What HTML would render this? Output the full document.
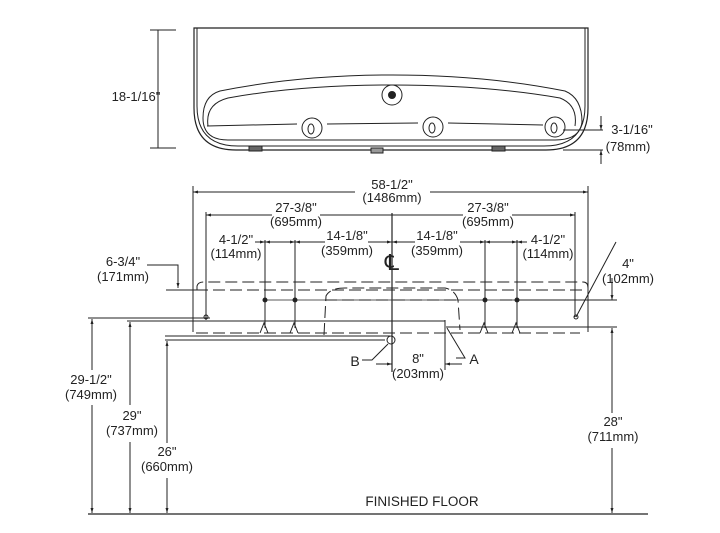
<!DOCTYPE html>
<html><head><meta charset="utf-8"><style>
html,body{margin:0;padding:0;background:#fff}
svg{display:block}
text{font-family:"Liberation Sans",Arial,sans-serif;font-size:13px;fill:#222;text-anchor:middle}
</style></head><body>
<svg width="720" height="533" viewBox="0 0 720 533" xmlns="http://www.w3.org/2000/svg">
<defs>
<marker id="a" viewBox="0 0 10 10" refX="10" refY="5" markerWidth="5" markerHeight="5" orient="auto-start-reverse"><path d="M0,2 L10,5 L0,8z" fill="#222"/></marker>
</defs>
<g stroke="#222" fill="none" stroke-width="1">
<!-- top view -->
<path d="M194,28 V108 Q194,150 236,150 H546 Q588,150 588,108 V28 Z" stroke-width="1.2"/>
<path d="M197,28 V106 Q197,146 238,146 H544 Q585,146 585,106 V28"/>
<path d="M220,91 Q300,75 392,75 Q485,75 565,91 Q582,98 582,122 Q580,140 555,140 H228 Q203,140 203,118 Q203,96 220,91 Z"/>
<path d="M208,126 Q205,104 228,98 Q300,85 392,85 Q485,85 560,98 Q578,105 575,126"/>
<path d="M207,126 L297,124 M327,124 L418,123 M448,123 L543,125"/>
<circle cx="392" cy="95" r="10"/><circle cx="392" cy="95" r="3.5" fill="#222"/>
<circle cx="312" cy="128" r="10"/><ellipse cx="311" cy="129" rx="3" ry="5"/>
<circle cx="433" cy="127" r="10"/><ellipse cx="432" cy="128" rx="3" ry="5"/>
<circle cx="555" cy="127" r="10"/><ellipse cx="554" cy="128" rx="3" ry="5"/>
<rect x="249" y="146" width="13" height="5" fill="#666"/>
<rect x="371" y="148" width="12" height="5" fill="#999"/>
<rect x="492" y="146" width="13" height="5" fill="#666"/>
<line x1="150" y1="30" x2="176" y2="30"/><line x1="150" y1="148" x2="176" y2="148"/>
<line x1="158" y1="30" x2="158" y2="148"/>
<line x1="563" y1="130" x2="603" y2="130"/><line x1="563" y1="150" x2="603" y2="150"/>
<line x1="601" y1="116" x2="601" y2="130" marker-end="url(#a)"/>
<line x1="601" y1="164" x2="601" y2="150" marker-end="url(#a)"/>
<!-- front dims -->
<line x1="193" y1="186" x2="193" y2="332"/><line x1="588" y1="186" x2="588" y2="332"/>
<path d="M193,192 H355 M430,192 H588" marker-start="url(#a)" marker-end="url(#a)"/>
<line x1="206" y1="212" x2="206" y2="320"/><line x1="575" y1="212" x2="575" y2="317"/>
<path d="M206,215 H272 M320,215 H392" marker-start="url(#a)"/>
<path d="M392,215 H463 M512,215 H575" marker-end="url(#a)"/>
<line x1="392" y1="213" x2="392" y2="372" stroke-width="1.2"/>
<line x1="265" y1="240" x2="265" y2="328"/><line x1="295" y1="240" x2="295" y2="328"/>
<line x1="485" y1="240" x2="485" y2="328"/><line x1="517" y1="240" x2="517" y2="328"/>
<path d="M255,242 H265" marker-end="url(#a)"/><path d="M265,242 H295" marker-start="url(#a)" marker-end="url(#a)"/>
<path d="M295,242 H325 M368,242 H392" marker-start="url(#a)" marker-end="url(#a)"/>
<path d="M392,242 H415 M460,242 H485" marker-start="url(#a)" marker-end="url(#a)"/>
<path d="M485,242 H517" marker-start="url(#a)" marker-end="url(#a)"/><path d="M527,242 H517" marker-end="url(#a)"/>
<!-- body -->
<g stroke-dasharray="12,5">
<path d="M197,290 V286 Q198,282 204,282 H583 Q588,282 588,288"/>
<line x1="196" y1="290" x2="585" y2="290"/>
<path d="M325,300 H460"/><path d="M500,300 H575"/>
<path d="M324,335 L326,296 Q330,288 345,288 H445 Q455,290 458,300 L460,330"/>
<path d="M196,333 H580"/>
</g>
<line x1="266" y1="300" x2="520" y2="300" stroke-width="0.7"/>
<line x1="520" y1="300" x2="617" y2="300"/>
<circle cx="265" cy="300" r="2" fill="#222"/><circle cx="295" cy="300" r="2" fill="#222"/>
<circle cx="485" cy="300" r="2" fill="#222"/><circle cx="517" cy="300" r="2" fill="#222"/>
<circle cx="206" cy="317" r="2"/><circle cx="576" cy="317" r="2"/>
<path d="M260,333 L264,323 L268,333 M290,333 L294,323 L298,333 M480,333 L484,323 L488,333 M512,333 L516,323 L520,333"/>
<line x1="88" y1="318" x2="210" y2="318"/>
<line x1="160" y1="321" x2="445" y2="321"/>
<line x1="446" y1="327" x2="617" y2="327"/>
<line x1="165" y1="336" x2="390" y2="336"/>
<line x1="165" y1="340" x2="385" y2="340"/>
<line x1="127" y1="321" x2="160" y2="321"/>
<circle cx="391" cy="340" r="4"/>
<line x1="166" y1="290" x2="200" y2="290"/>
<path d="M147,265 H178 V288" marker-end="url(#a)"/>
<path d="M576,317 L616,242"/>
<path d="M612,278 V300" marker-end="url(#a)"/>
<!-- B, A, 8" -->
<path d="M362,360 H372 L388,344"/>
<path d="M456,358 H465 L447,328"/>
<line x1="445" y1="320" x2="445" y2="370"/>
<path d="M376,364 H392" marker-end="url(#a)"/><path d="M462,364 H445" marker-end="url(#a)"/>
<!-- heights -->
<line x1="88" y1="514" x2="648" y2="514" stroke-width="1.2"/>
<path d="M92,370 V319" marker-end="url(#a)"/><path d="M92,405 V513" marker-end="url(#a)"/>
<path d="M130,405 V322" marker-end="url(#a)"/><path d="M130,442 V513" marker-end="url(#a)"/>
<path d="M167,443 V341" marker-end="url(#a)"/><path d="M167,478 V513" marker-end="url(#a)"/>
<path d="M612,413 V328" marker-end="url(#a)"/><path d="M612,448 V513" marker-end="url(#a)"/>
</g>
<text x="136" y="101">18-1/16"</text>
<text x="632" y="134">3-1/16"</text><text x="628" y="151">(78mm)</text>
<text x="392" y="189">58-1/2"</text><text x="392" y="202">(1486mm)</text>
<text x="296" y="212">27-3/8"</text><text x="296" y="226">(695mm)</text>
<text x="488" y="212">27-3/8"</text><text x="488" y="226">(695mm)</text>
<text x="236" y="244">4-1/2"</text><text x="236" y="258">(114mm)</text>
<text x="347" y="240">14-1/8"</text><text x="347" y="255">(359mm)</text>
<text x="437" y="240">14-1/8"</text><text x="437" y="255">(359mm)</text>
<text x="548" y="244">4-1/2"</text><text x="548" y="258">(114mm)</text>
<text x="392" y="270" style="font-size:22px">℄</text>
<text x="123" y="266">6-3/4"</text><text x="123" y="281">(171mm)</text>
<text x="628" y="268">4"</text><text x="628" y="283">(102mm)</text>
<text x="355" y="366" style="font-size:14px">B</text>
<text x="474" y="364" style="font-size:14px">A</text>
<text x="418" y="363">8"</text><text x="418" y="378">(203mm)</text>
<text x="91" y="384">29-1/2"</text><text x="91" y="399">(749mm)</text>
<text x="132" y="420">29"</text><text x="132" y="435">(737mm)</text>
<text x="167" y="456">26"</text><text x="167" y="471">(660mm)</text>
<text x="613" y="426">28"</text><text x="613" y="441">(711mm)</text>
<text x="422" y="506" style="font-size:13.5px">FINISHED FLOOR</text>
</svg>
</body></html>
